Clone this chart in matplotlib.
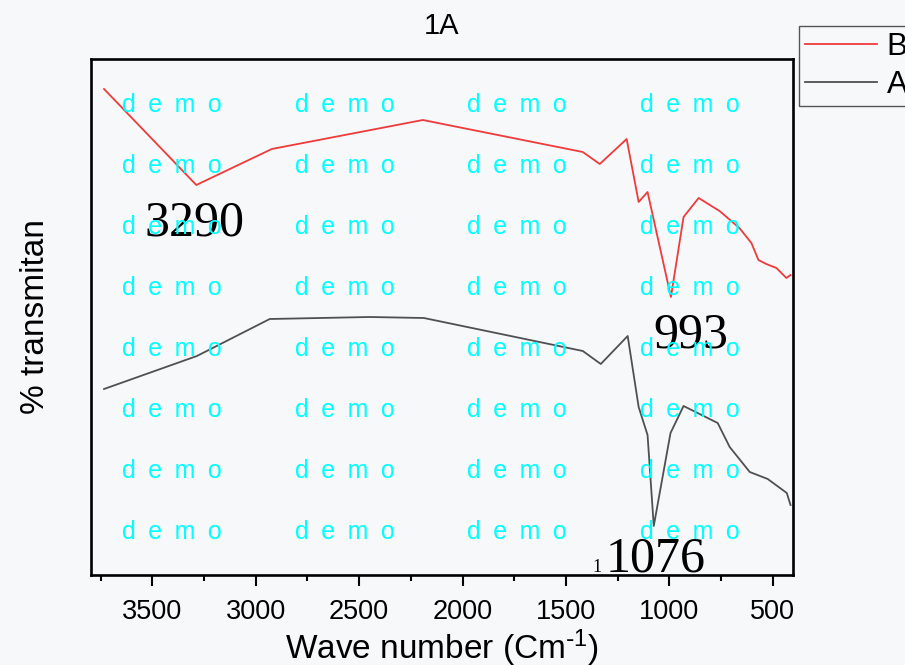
import numpy as np
import matplotlib
matplotlib.use("Agg")
import matplotlib.pyplot as plt
from matplotlib.ticker import MultipleLocator

plt.rcParams["font.family"] = ["Liberation Sans", "DejaVu Sans"]
plt.rcParams["mathtext.default"] = "regular"

# FTIR spectra (wavenumber in cm-1, transmittance in arbitrary units)
wn_b = [3733, 3287, 2922, 2192, 1419, 1337, 1207, 1149, 1106, 993, 932, 859,
        758, 662, 604, 570, 532, 483, 435, 415]
tr_b = [486, 390, 426, 455, 423, 411, 436, 373, 383, 278, 358, 377,
        364, 347, 332, 315, 311, 307, 297, 300]

wn_a = [3733, 3284, 2932, 2448, 2187, 1419, 1332, 1202, 1149, 1106, 1076, 995,
        932, 767, 709, 612, 525, 433, 415]
tr_a = [186, 219, 256, 258, 257, 224, 211, 239, 168, 140, 49, 142,
        169, 152, 128, 103, 96, 82, 70]

# peak labels: (text, wavenumber, baseline level)
peak_labels = [("3290", 3294, 339), ("993", 898, 228), ("1076", 1067, 3)]

BG = "#f7f8fa"
RED = "#ee3b3b"
GREY = "#505050"

fig = plt.figure(figsize=(9.05, 6.65), dpi=100, facecolor=BG)
ax = fig.add_axes([91 / 905, 1 - 575 / 665, 702 / 905, 516 / 665], facecolor=BG)

lb, = ax.plot(wn_b, tr_b, color=RED, linewidth=1.3)
la, = ax.plot(wn_a, tr_a, color=GREY, linewidth=1.3)

ax.set_xlim(3796, 403)
ax.set_ylim(0, 516)
ax.set_yticks([])
ax.xaxis.set_major_locator(MultipleLocator(500))
ax.xaxis.set_minor_locator(MultipleLocator(250))
ax.tick_params(axis="x", which="major", direction="out", length=8, width=1.5,
               labelsize=19.5, pad=9)
ax.tick_params(axis="x", which="minor", direction="out", length=4, width=1.5)
for sp in ax.spines.values():
    sp.set_linewidth(1.9)

ax.set_title("1A", fontsize=21, pad=18)
ax.set_xlabel(r"Wave number (Cm$^{\text{-}1}$)", fontsize=24, labelpad=2)
ax.set_ylabel("% transmitan", fontsize=24, labelpad=29)

for txt, x, y in peak_labels:
    ax.text(x, y, txt, fontsize=36, family="Liberation Serif",
            ha="center", va="baseline")
ax.text(1352, 3, "1", fontsize=13, family="Liberation Serif",
        ha="center", va="baseline")

# watermark grid
for i in range(4):
    for j in range(8):
        ax.text(0.0442 + 0.246 * i, 0.911 - 0.1182 * j, "d\u2002e\u2002m\u2002o",
                transform=ax.transAxes, color="#00ffff", fontsize=18,
                ha="left", va="center", zorder=10)

fig.legend([lb, la], ["B", "A"], loc="upper left",
           bbox_to_anchor=(799 / 905, 1 - 26 / 665), fontsize=22.5,
           frameon=True, fancybox=False, edgecolor="#555555", facecolor=BG,
           framealpha=1, borderpad=0.2, handlelength=2.3, handletextpad=0.3,
           labelspacing=0.25, borderaxespad=0)

fig.savefig("out.png", dpi=100, facecolor=BG)
